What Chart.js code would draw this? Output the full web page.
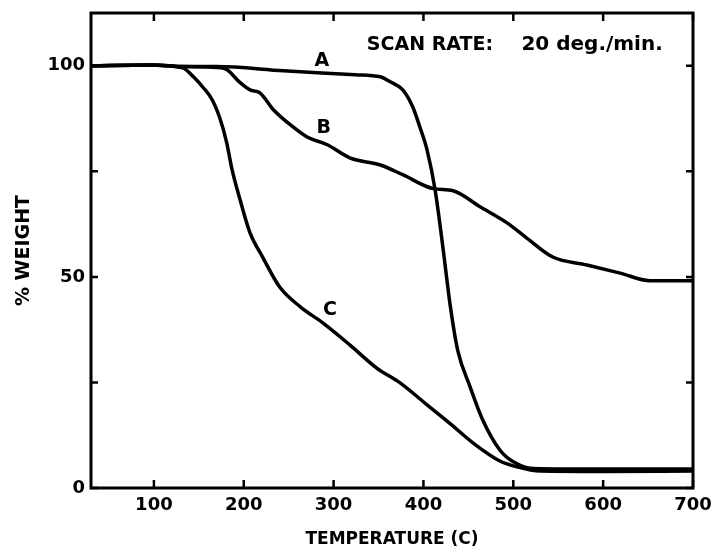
<!DOCTYPE html>
<html>
<head>
<meta charset="utf-8">
<script src="https://cdn.jsdelivr.net/npm/chart.js@4"></script>
<style>
  html, body { margin: 0; padding: 0; background: #fff; }
  #wrap { width: 715px; height: 550px; }
</style>
</head>
<body>
<div id="wrap"><canvas id="tga"></canvas></div>
<script>
// temperature (C) / % weight
const tempA = [30, 96, 132, 170, 244, 324, 352, 363, 377, 388, 396, 404, 413, 421, 430, 438, 452, 466, 485, 500, 522, 560, 700];
const wtA   = [100, 100.2, 99.8, 99.8, 98.8, 97.9, 97.4, 96.2, 94.3, 90.3, 85.5, 80.1, 70.6, 58.1, 42.9, 32.7, 23.9, 16.1, 9.0, 6.2, 4.6, 4.5, 4.5];

const tempB = [30, 96, 132, 170, 181, 196, 207, 218, 233, 252, 270, 293, 318, 352, 377, 411, 433, 463, 493, 515, 544, 582, 619, 652, 700];
const wtB   = [100, 100.2, 99.8, 99.6, 99.1, 96.0, 94.3, 93.6, 89.6, 86.0, 83.2, 81.3, 78.2, 76.5, 74.2, 70.9, 70.4, 66.6, 62.8, 59.2, 54.7, 52.8, 50.9, 49.1, 49.1];

const tempC = [30, 96, 132, 144, 155, 165, 174, 181, 187, 196, 207, 221, 240, 263, 288, 318, 348, 374, 404, 430, 455, 485, 504, 530, 600, 700];
const wtC   = [100, 100.2, 99.5, 97.4, 94.8, 91.9, 87.2, 81.8, 75.4, 68.2, 60.4, 54.7, 47.6, 42.9, 39.1, 33.9, 28.4, 24.9, 19.7, 15.2, 10.7, 6.4, 5.0, 4.0, 3.9, 4.0];

const xTicks = [100, 200, 300, 400, 500, 600, 700];
const yTicks = [0, 25, 50, 75, 100];
const yLabeled = [0, 50, 100];

// curve letters and the note, at data coordinates
const notes = [
  { text: 'A', x: 287, y: 101 },
  { text: 'B', x: 289, y: 85.3 },
  { text: 'C', x: 296, y: 42.2 }
];
const scanNote = { text: 'SCAN RATE:', x: 337, y: 105 };
const scanNote2 = { text: '20 deg./min.', x: 509, y: 105 };

const FONT = '"DejaVu Sans", "Liberation Sans", Arial, sans-serif';

function pts(xs, ys) {
  return xs.map((x, i) => ({ x: x, y: ys[i] }));
}

const lineStyle = { borderColor: '#000', borderWidth: 3.5, pointRadius: 0, cubicInterpolationMode: 'monotone', fill: false };

// frame + inward tick marks, plus the text labels
const framePlugin = {
  id: 'frame',
  afterDraw(chart) {
    const ctx = chart.ctx;
    const a = chart.chartArea;
    const xs = chart.scales.x, ys = chart.scales.y;
    ctx.save();
    ctx.strokeStyle = '#000';
    ctx.lineWidth = 3;
    ctx.strokeRect(a.left, a.top, a.right - a.left, a.bottom - a.top);
    ctx.lineWidth = 2.5;
    ctx.beginPath();
    xTicks.forEach(v => {
      const px = xs.getPixelForValue(v);
      ctx.moveTo(px, a.bottom); ctx.lineTo(px, a.bottom - 8);
      ctx.moveTo(px, a.top); ctx.lineTo(px, a.top + 8);
    });
    yTicks.forEach(v => {
      const py = ys.getPixelForValue(v);
      ctx.moveTo(a.left, py); ctx.lineTo(a.left + 7, py);
      ctx.moveTo(a.right, py); ctx.lineTo(a.right - 7, py);
    });
    ctx.stroke();

    ctx.fillStyle = '#000';
    ctx.textBaseline = 'middle';
    ctx.textAlign = 'center';
    ctx.font = 'bold 19px ' + FONT;
    notes.forEach(n => {
      ctx.fillText(n.text, xs.getPixelForValue(n.x), ys.getPixelForValue(n.y));
    });
    ctx.textAlign = 'left';
    ctx.font = 'bold 19px ' + FONT;
    ctx.fillText(scanNote.text, xs.getPixelForValue(scanNote.x), ys.getPixelForValue(scanNote.y));
    ctx.font = 'bold 20px ' + FONT;
    ctx.fillText(scanNote2.text, xs.getPixelForValue(scanNote2.x), ys.getPixelForValue(scanNote2.y));
    ctx.restore();
  }
};

new Chart(document.getElementById('tga'), {
  type: 'line',
  data: {
    datasets: [
      Object.assign({ label: 'A', data: pts(tempA, wtA) }, lineStyle),
      Object.assign({ label: 'B', data: pts(tempB, wtB) }, lineStyle),
      Object.assign({ label: 'C', data: pts(tempC, wtC) }, lineStyle)
    ]
  },
  options: {
    responsive: true,
    maintainAspectRatio: false,
    animation: false,
    layout: { padding: { top: 13, right: 22, left: 0, bottom: 0 } },
    plugins: { legend: { display: false }, tooltip: { enabled: false } },
    scales: {
      x: {
        type: 'linear',
        min: 30,
        max: 700,
        afterBuildTicks: s => { s.ticks = xTicks.map(v => ({ value: v })); },
        afterFit: s => { s.height = 62; s.paddingLeft = 0; s.paddingRight = 0; },
        grid: { display: false, drawTicks: false },
        border: { display: false },
        ticks: {
          color: '#000',
          padding: 7,
          maxRotation: 0,
          font: { family: FONT, size: 18, weight: 'bold' }
        },
        title: {
          display: true,
          text: 'TEMPERATURE (C)',
          color: '#000',
          padding: { top: 2, bottom: 0 },
          font: { family: FONT, size: 17, weight: 'bold' }
        }
      },
      y: {
        type: 'linear',
        min: 0,
        max: 112.5,
        afterBuildTicks: s => { s.ticks = yTicks.map(v => ({ value: v })); },
        afterFit: s => { s.width = 91; s.paddingTop = 0; s.paddingBottom = 0; },
        grid: { display: false, drawTicks: false },
        border: { display: false },
        ticks: {
          color: '#000',
          padding: 6,
          callback: v => (yLabeled.includes(v) ? String(v) : ''),
          font: { family: FONT, size: 18, weight: 'bold' }
        },
        title: {
          display: true,
          text: '% WEIGHT',
          color: '#000',
          padding: { top: 13, bottom: 0 },
          font: { family: FONT, size: 19, weight: 'bold' }
        }
      }
    }
  },
  plugins: [framePlugin]
});
</script>
</body>
</html>
